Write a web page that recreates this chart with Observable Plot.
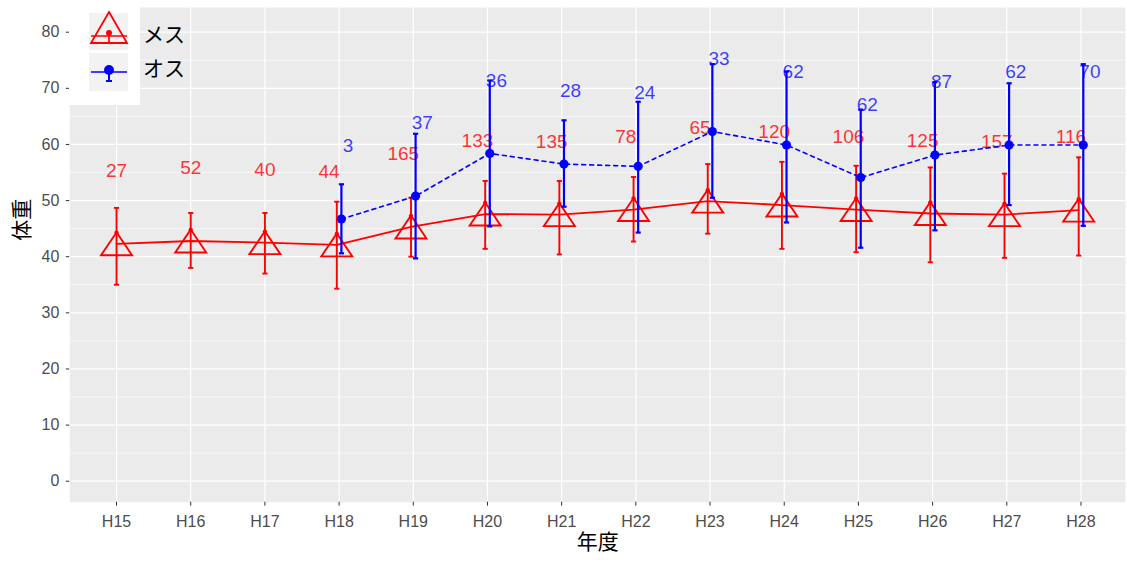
<!DOCTYPE html>
<html>
<head>
<meta charset="utf-8">
<script src="https://cdn.jsdelivr.net/npm/d3@7"></script>
<script src="https://cdn.jsdelivr.net/npm/@observablehq/plot@0.6"></script>
<style>
  html, body { margin: 0; padding: 0; background: white; }
  #wrap { position: relative; width: 1127px; height: 562px; }
  #legend { position: absolute; left: 0; top: 0; pointer-events: none; }
</style>
</head>
<body>
<div id="wrap"></div>
<script>
// ---- data ----
const years = ["H15","H16","H17","H18","H19","H20","H21","H22","H23","H24","H25","H26","H27","H28"];
const femaleMean = [42.3, 42.8, 42.5, 42.1, 45.3, 47.6, 47.5, 48.4, 49.9, 49.2, 48.4, 47.7, 47.5, 48.3];
const femaleLo   = [35.0, 38.0, 37.0, 34.3, 40.0, 41.4, 40.4, 42.7, 44.1, 41.4, 40.8, 39.0, 39.8, 40.2];
const femaleHi   = [48.7, 47.8, 47.8, 49.8, 50.5, 53.5, 53.5, 54.2, 56.5, 56.9, 56.2, 55.9, 54.8, 57.7];
const femaleN    = [27, 52, 40, 44, 165, 133, 135, 78, 65, 120, 106, 125, 157, 116];

const maleYears = ["H18","H19","H20","H21","H22","H23","H24","H25","H26","H27","H28"];
const maleMean  = [46.7, 50.8, 58.4, 56.5, 56.1, 62.3, 59.9, 54.1, 58.1, 59.9, 59.9];
const maleLo    = [40.6, 39.7, 45.4, 48.9, 44.3, 50.5, 46.1, 41.6, 44.7, 49.2, 45.5];
const maleHi    = [52.9, 61.9, 71.4, 64.3, 67.6, 74.3, 73.0, 66.2, 71.1, 70.9, 74.3];
const maleN     = [3, 37, 36, 28, 24, 33, 62, 62, 87, 62, 70];

const yTicks = [0, 10, 20, 30, 40, 50, 60, 70, 80];
const yMinor = [5, 15, 25, 35, 45, 55, 65, 75];

// ---- tables (dodge in x units) ----
const dodgePt = 0.031, dodgeLabF = 0.135, dodgeLabM = 0.12, capHalf = 0.035;
const female = years.map((yr, i) => {
  const dodged = maleYears.includes(yr);
  return { i, x: i - (dodged ? dodgePt : 0), lx: i - (dodged ? dodgeLabF : 0),
           mean: femaleMean[i], lo: femaleLo[i], hi: femaleHi[i], n: femaleN[i] };
});
const male = maleYears.map((yr, j) => {
  const i = years.indexOf(yr);
  return { i, x: i + dodgePt, lx: i + dodgeLabM,
           mean: maleMean[j], lo: maleLo[j], hi: maleHi[j], n: maleN[j] };
});

const triangle = {
  draw(context, size) {
    const r = Math.sqrt(size / Math.PI);
    const h = r * 0.74;
    context.moveTo(0, -h);
    context.lineTo(r, h);
    context.lineTo(-r, h);
    context.closePath();
  }
};

const RED = "#FF0000", BLUE = "#0000FF";

const chart = Plot.plot({
  width: 1127,
  height: 562,
  marginLeft: 69.3,
  marginRight: 2,
  marginTop: 7,
  marginBottom: 60.3,
  x: { type: "linear", domain: [-0.63, 13.6] },
  y: { domain: [-3.74, 84.4] },
  style: { fontFamily: "'Liberation Sans', Arial, sans-serif", background: "white", overflow: "visible" },
  marks: [
    Plot.frame({ fill: "#EBEBEB", stroke: null }),
    Plot.gridY(yMinor, { stroke: "white", strokeOpacity: 1, strokeWidth: 0.6 }),
    Plot.gridY(yTicks, { stroke: "white", strokeOpacity: 1, strokeWidth: 1.2 }),
    Plot.gridX(d3.range(years.length), { stroke: "white", strokeOpacity: 1, strokeWidth: 1.2 }),
    Plot.axisY(yTicks, { tickSize: 3.5, tickPadding: 7, fontSize: 16, stroke: "#333333", fill: "#4D4D4D", label: null }),
    Plot.axisX(d3.range(years.length), { tickSize: 4, tickPadding: 9, fontSize: 16, stroke: "#333333", fill: "#4D4D4D",
      tickFormat: i => years[i], label: null }),
    Plot.text(["体重"], { text: d => d, frameAnchor: "left", dx: -48, dy: -14, rotate: -90, fontSize: 21,
      fontFamily: "'Noto Sans CJK JP', sans-serif", fill: "black" }),
    Plot.text(["年度"], { text: d => d, frameAnchor: "bottom", dy: 47, fontSize: 21,
      fontFamily: "'Noto Sans CJK JP', sans-serif", fill: "black" }),

    // female
    Plot.line(female, { x: "x", y: "mean", stroke: RED, strokeWidth: 1.8 }),
    Plot.ruleX(female, { x: "x", y1: "lo", y2: "hi", stroke: RED, strokeWidth: 1.9 }),
    Plot.link(female, { x1: d => d.x - capHalf, x2: d => d.x + capHalf, y1: "hi", y2: "hi", stroke: RED, strokeWidth: 1.9 }),
    Plot.link(female, { x1: d => d.x - capHalf, x2: d => d.x + capHalf, y1: "lo", y2: "lo", stroke: RED, strokeWidth: 1.9 }),
    Plot.dot(female, { x: "x", y: "mean", r: 15.5, symbol: triangle, stroke: RED, strokeWidth: 1.9, fill: "none" }),
    Plot.dot(female, { x: "x", y: "mean", r: 2.2, dy: -11, fill: RED, stroke: null }),
    Plot.text(female, { x: "lx", y: "mean", dy: -73, text: "n", fill: RED, fillOpacity: 0.8, fontSize: 19 }),

    // male
    Plot.line(male, { x: "x", y: "mean", stroke: BLUE, strokeWidth: 1.6, strokeDasharray: "4,4" }),
    Plot.ruleX(male, { x: "x", y1: "lo", y2: "hi", stroke: BLUE, strokeWidth: 2.2 }),
    Plot.link(male, { x1: d => d.x - capHalf, x2: d => d.x + capHalf, y1: "hi", y2: "hi", stroke: BLUE, strokeWidth: 2.2 }),
    Plot.link(male, { x1: d => d.x - capHalf, x2: d => d.x + capHalf, y1: "lo", y2: "lo", stroke: BLUE, strokeWidth: 2.2 }),
    Plot.dot(male, { x: "x", y: "mean", r: 4.6, fill: BLUE, stroke: null }),
    Plot.text(male, { x: "lx", y: "mean", dy: -73, text: "n", fill: BLUE, fillOpacity: 0.75, fontSize: 19 })
  ]
});

const wrap = document.getElementById("wrap");
wrap.appendChild(chart);

// legend overlay
const legend = `
<svg id="legend" width="200" height="110" xmlns="http://www.w3.org/2000/svg">
  <rect x="69" y="0" width="71" height="105" fill="white"/>
  <rect x="89" y="13" width="39" height="37" fill="#F2F2F2"/>
  <rect x="89" y="53" width="39" height="38" fill="#F2F2F2"/>
  <path d="M109,12 L127,43 L91,43 Z" fill="none" stroke="${RED}" stroke-width="1.8"/>
  <line x1="91" y1="36" x2="127" y2="36" stroke="${RED}" stroke-width="1.7"/>
  <line x1="109" y1="31" x2="109" y2="43" stroke="${RED}" stroke-width="1.7"/>
  <circle cx="109" cy="33" r="3" fill="${RED}"/>
  <line x1="91" y1="72" x2="127" y2="72" stroke="${BLUE}" stroke-width="1.7"/>
  <line x1="109" y1="66" x2="109" y2="81" stroke="${BLUE}" stroke-width="2"/>
  <line x1="106" y1="81" x2="112" y2="81" stroke="${BLUE}" stroke-width="2"/>
  <circle cx="109" cy="70" r="5" fill="${BLUE}"/>
  <text x="143" y="35" dy="0.35em" font-size="21" font-family="'Noto Sans CJK JP', sans-serif" fill="black">メス</text>
  <text x="143" y="69" dy="0.35em" font-size="21" font-family="'Noto Sans CJK JP', sans-serif" fill="black">オス</text>
</svg>`;
wrap.insertAdjacentHTML("beforeend", legend);
</script>
</body>
</html>
